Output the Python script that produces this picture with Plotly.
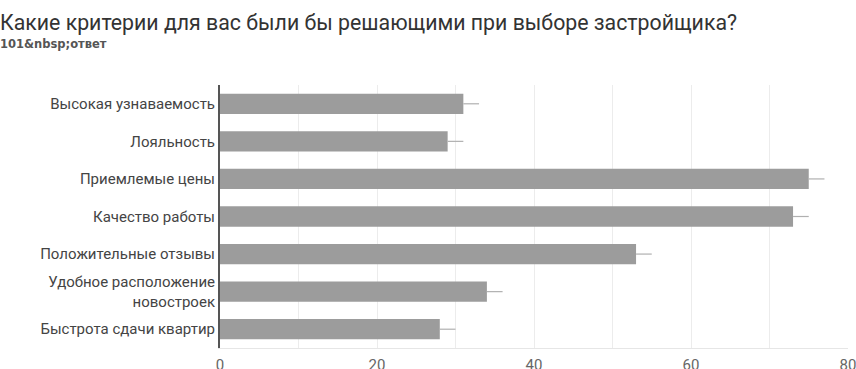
import plotly.graph_objects as go

# Survey answers: "Какие критерии для вас были бы решающими при выборе застройщика?"
categories = [
    "Высокая узнаваемость",
    "Лояльность",
    "Приемлемые цены",
    "Качество работы",
    "Положительные отзывы",
    "Удобное расположение<br>новостроек",
    "Быстрота сдачи квартир",
]
counts = [31, 29, 75, 73, 53, 34, 28]
spread = [2, 2, 2, 2, 2, 2, 2]
x_ticks = [0, 20, 40, 60, 80]

title_text = "Какие критерии для вас были бы решающими при выборе застройщика?"
subtitle_text = "101&amp;nbsp;ответ"

fig = go.Figure()
fig.add_trace(go.Bar(
    y=categories,
    x=counts,
    orientation="h",
    marker=dict(color="#9c9c9c", line=dict(width=0)),
    error_x=dict(
        type="data",
        symmetric=False,
        array=spread,
        arrayminus=[0] * len(spread),
        color="#b0b0b0",
        thickness=1.2,
        width=0,
    ),
    hoverinfo="skip",
))

fig.update_layout(
    template="none",
    width=856,
    height=369,
    margin=dict(l=220, r=8, t=85, b=21, autoexpand=False),
    paper_bgcolor="white",
    plot_bgcolor="white",
    bargap=0.46,
    showlegend=False,
    font=dict(family="Roboto, Arial, sans-serif", color="#444444"),
    xaxis=dict(
        automargin=False,
        range=[0, 80],
        tickvals=x_ticks,
        showgrid=True,
        gridcolor="#ececec",
        gridwidth=1,
        zeroline=False,
        showline=True,
        linecolor="#e6e6e6",
        ticks="",
        ticklabelstandoff=3,
        ticklabeloverflow="allow",
        tickfont=dict(size=15, color="#666666"),
        fixedrange=True,
        minor=dict(dtick=10, tick0=0, showgrid=True, gridcolor="#ececec", ticks=""),
    ),
    yaxis=dict(
        automargin=False,
        autorange="reversed",
        showgrid=False,
        zeroline=False,
        showline=True,
        linecolor="#555555",
        linewidth=2,
        ticks="",
        ticklabelstandoff=0,
        tickfont=dict(size=15, color="#444444"),
        fixedrange=True,
    ),
)

fig.add_annotation(
    text=title_text, xref="paper", yref="paper",
    x=-220 / 628, y=1 + 63 / 263, xanchor="left", yanchor="middle",
    xshift=-2,
    showarrow=False, font=dict(size=21.3, color="#333333"),
)
fig.add_annotation(
    text=subtitle_text, xref="paper", yref="paper",
    x=-220 / 628, y=1 + 41 / 263, xanchor="left", yanchor="middle",
    xshift=-2,
    showarrow=False,
    font=dict(family="DejaVu Sans, sans-serif", size=11.5, color="#555555", weight="bold"),
)

fig.write_html("out.html")
